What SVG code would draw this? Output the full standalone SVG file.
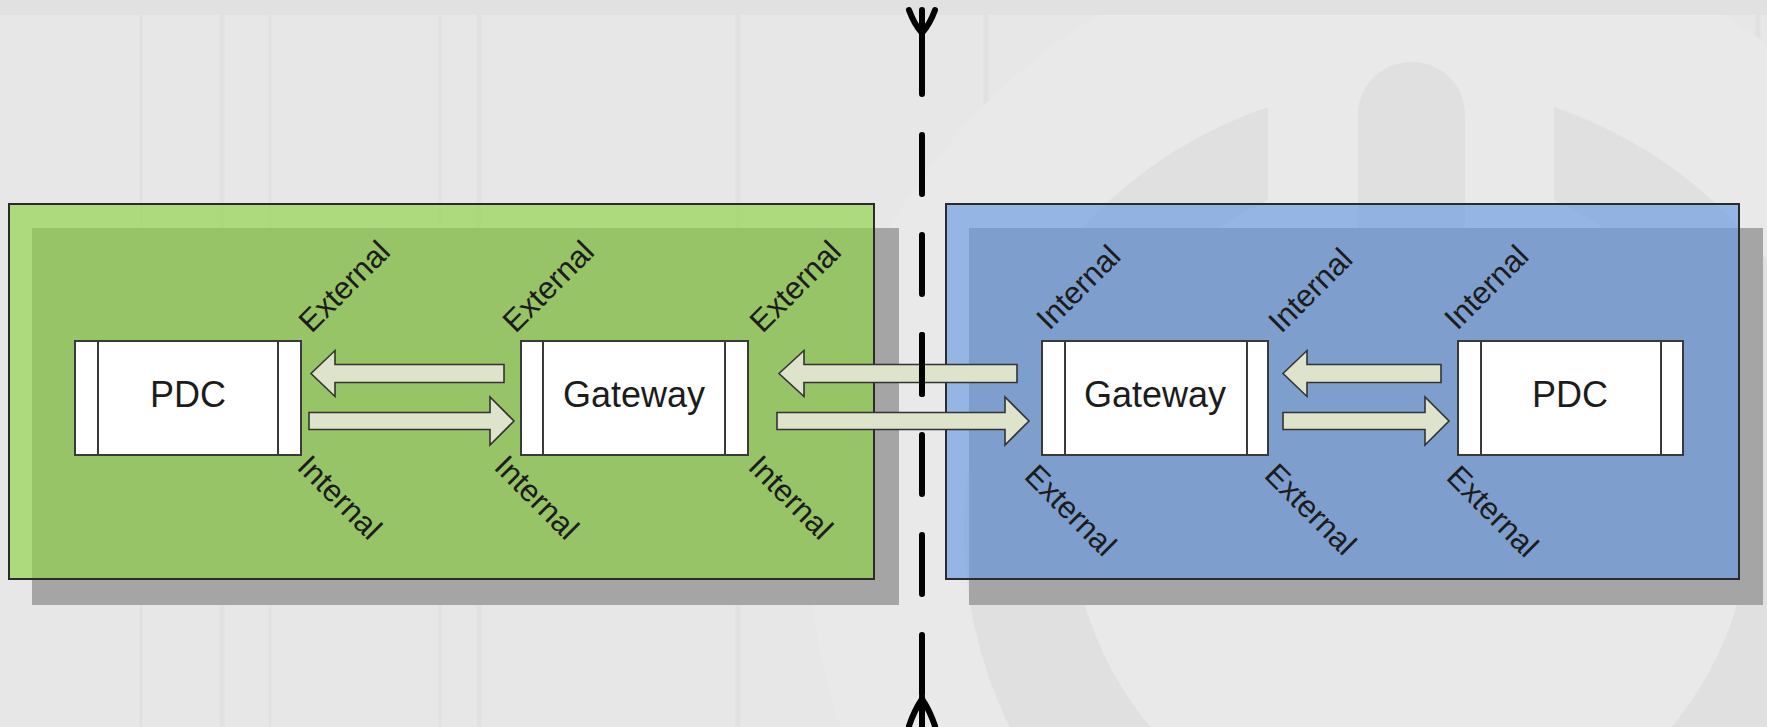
<svg xmlns="http://www.w3.org/2000/svg" width="1767" height="727" viewBox="0 0 1767 727">
  <defs>
    <style>
      .shadow { fill: #a5a5a5; }
      .zone { stroke: #2b2b2b; stroke-width: 2; fill-opacity: 0.67; }
      .zone-green { fill: #90d448; }
      .zone-blue { fill: #6c9de2; }
      .box { fill: #ffffff; stroke: #3a3a3a; stroke-width: 2; }
      .bar { stroke: #3a3a3a; stroke-width: 2; fill: none; }
      .flow { fill: #dee3cc; stroke: #333333; stroke-width: 1.6; stroke-linejoin: miter; }
      .name { font-family: "Liberation Sans", Arial, sans-serif; font-size: 36px; fill: #1c1c1c; text-anchor: middle; }
      .port { font-family: "Liberation Sans", Arial, sans-serif; font-size: 31px; fill: #1c1c1c; text-anchor: middle; }
      .border { stroke: #000000; stroke-width: 6; stroke-linecap: round; fill: none; }
      .wm { fill: #e0e0e0; }
      .grid { stroke: #e1e1e1; stroke-width: 5; }
    </style>
  </defs>

  <!-- backdrop with faint watermark -->
  <g id="backdrop">
    <rect x="0" y="0" width="1767" height="727" fill="#e7e7e7"/>
    <g class="grid">
      <line x1="141" y1="0" x2="141" y2="727" stroke-width="3"/>
      <line x1="222" y1="0" x2="222" y2="727"/>
      <line x1="270" y1="0" x2="270" y2="727" stroke-width="3"/>
      <line x1="440" y1="0" x2="440" y2="727" stroke-width="3"/>
      <line x1="479" y1="0" x2="479" y2="727"/>
      <line x1="738" y1="0" x2="738" y2="727"/>
      <line x1="986" y1="0" x2="986" y2="727"/>
      <line x1="1245" y1="0" x2="1245" y2="727"/>
      <line x1="1510" y1="0" x2="1510" y2="727"/>
      <line x1="1758" y1="0" x2="1758" y2="727"/>
    </g>
    <circle cx="1411" cy="531" r="603" fill="#e9e9e9"/>
    <!-- power-symbol ring with a gap at the top -->
    <path class="wm" fill-rule="evenodd"
          d="M1268,107 A447,447 0 1 0 1554,107 L1554,200 A340,340 0 1 1 1268,200 Z"/>
    <rect class="wm" x="1358" y="62" width="107" height="400" rx="53" ry="53"/>
    <rect x="0" y="0" width="1767" height="15" fill="#e1e1e1"/>
  </g>

  <!-- site zones -->
  <g id="zone-left">
    <rect class="shadow" x="32" y="228" width="867" height="377"/>
    <rect class="zone zone-green" x="9" y="204" width="865" height="375"/>
  </g>
  <g id="zone-right">
    <rect class="shadow" x="969" y="228" width="794" height="377"/>
    <rect class="zone zone-blue" x="946" y="204" width="793" height="375"/>
  </g>

  <!-- boundary between the sites -->
  <g id="boundary">
    <line class="border" x1="922" y1="35" x2="922" y2="697" stroke-dasharray="59 41"/>
    <path class="border" d="M922,10 L922,35 M909,10 Q914,24 922,33 M935,10 Q930,24 922,33"/>
    <path class="border" d="M922,697 L922,727 M909,726 Q914,711 922,699 M935,726 Q930,711 922,699"/>
  </g>

  <!-- left site nodes -->
  <g id="pdc-left">
    <rect class="box" x="75" y="341" width="226" height="114"/>
    <line class="bar" x1="98" y1="341" x2="98" y2="455"/>
    <line class="bar" x1="278" y1="341" x2="278" y2="455"/>
    <text class="name" x="188" y="407">PDC</text>
    <text class="port" transform="translate(344,286) rotate(-45)" x="0" y="11">External</text>
    <text class="port" transform="translate(340,497) rotate(45)" x="0" y="11">Internal</text>
  </g>
  <g id="gateway-left">
    <rect class="box" x="521" y="341" width="227" height="114"/>
    <line class="bar" x1="543" y1="341" x2="543" y2="455"/>
    <line class="bar" x1="725" y1="341" x2="725" y2="455"/>
    <text class="name" x="634" y="407">Gateway</text>
    <text class="port" transform="translate(548,286) rotate(-45)" x="0" y="11">External</text>
    <text class="port" transform="translate(795,286) rotate(-45)" x="0" y="11">External</text>
    <text class="port" transform="translate(537,497) rotate(45)" x="0" y="11">Internal</text>
    <text class="port" transform="translate(791,497) rotate(45)" x="0" y="11">Internal</text>
  </g>

  <!-- right site nodes -->
  <g id="gateway-right">
    <rect class="box" x="1042" y="341" width="226" height="114"/>
    <line class="bar" x1="1065" y1="341" x2="1065" y2="455"/>
    <line class="bar" x1="1247" y1="341" x2="1247" y2="455"/>
    <text class="name" x="1155" y="407">Gateway</text>
    <text class="port" transform="translate(1078,287) rotate(-45)" x="0" y="11">Internal</text>
    <text class="port" transform="translate(1310,290) rotate(-45)" x="0" y="11">Internal</text>
    <text class="port" transform="translate(1071,510) rotate(45)" x="0" y="11">External</text>
    <text class="port" transform="translate(1311,509) rotate(45)" x="0" y="11">External</text>
  </g>
  <g id="pdc-right">
    <rect class="box" x="1458" y="341" width="225" height="114"/>
    <line class="bar" x1="1481" y1="341" x2="1481" y2="455"/>
    <line class="bar" x1="1661" y1="341" x2="1661" y2="455"/>
    <text class="name" x="1570" y="407">PDC</text>
    <text class="port" transform="translate(1486,287) rotate(-45)" x="0" y="11">Internal</text>
    <text class="port" transform="translate(1493,511) rotate(45)" x="0" y="11">External</text>
  </g>

  <!-- data flows -->
  <g id="connectors">
    <polygon class="flow" points="311,373.5 335,350.5 335,364.5 504,364.5 504,382.5 335,382.5 335,396.5"/>
    <polygon class="flow" points="309,412.5 490,412.5 490,397 514,421 490,445 490,429.5 309,429.5"/>
    <polygon class="flow" points="779,373.5 804,350.5 804,364.5 1017,364.5 1017,382.5 804,382.5 804,396.5"/>
    <polygon class="flow" points="777,412.5 1005,412.5 1005,397 1029,421 1005,445 1005,429.5 777,429.5"/>
    <polygon class="flow" points="1283,373.5 1307,350.5 1307,364.5 1441,364.5 1441,382.5 1307,382.5 1307,396.5"/>
    <polygon class="flow" points="1283,412.5 1425,412.5 1425,397 1449,421 1425,445 1425,429.5 1283,429.5"/>
  </g>

  <!-- dash segment that crosses over the long flow -->
  <g id="boundary-over">
    <line class="border" x1="922" y1="335" x2="922" y2="394"/>
  </g>
</svg>
